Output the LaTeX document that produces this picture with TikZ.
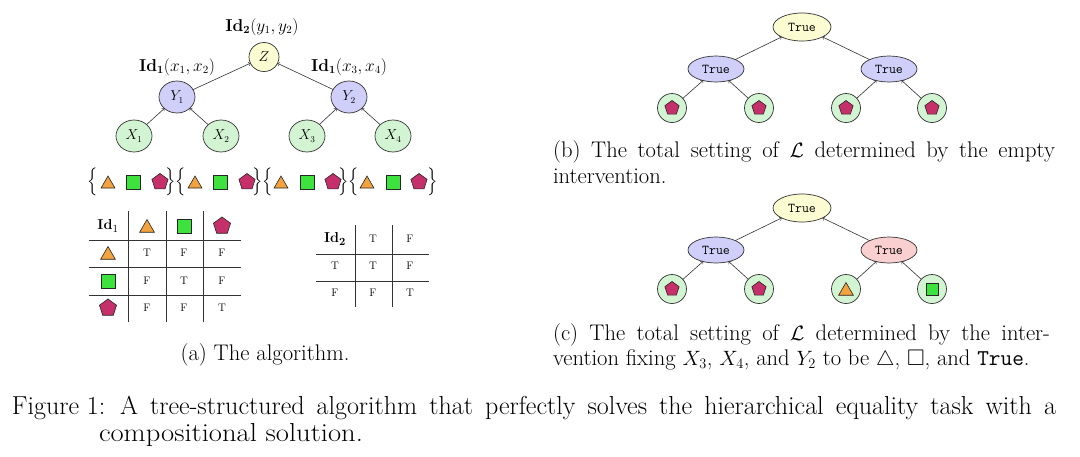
\documentclass[tikz,border=0pt]{standalone}
\usepackage{amsmath,amssymb,graphicx}
\usetikzlibrary{shapes.geometric}
\definecolor{trifill}{HTML}{F2A23E}
\definecolor{sqfill}{HTML}{3EE23E}
\definecolor{pentfill}{HTML}{C6306A}
\definecolor{xfill}{HTML}{D2F4D2}
\definecolor{yfill}{HTML}{CFCFFA}
\definecolor{zfill}{HTML}{FCFCD2}
\definecolor{rfill}{HTML}{F9CFCF}
\definecolor{linec}{HTML}{333333}
\begin{document}
\begin{tikzpicture}[x=1pt,y=-1pt,
 every node/.style={inner sep=0pt, outer sep=0pt},
 capfont/.style={font=\fontsize{22.6}{25.5}\selectfont},
 mainfont/.style={font=\fontsize{26}{24.5}\selectfont},
 var/.style={ellipse, draw=linec, line width=0.7pt, minimum width=36pt, minimum height=32pt, font=\fontsize{13.5}{15}\selectfont},
 xn/.style={var, fill=xfill},
 yn/.style={var, fill=yfill},
 zn/.style={var, fill=zfill, minimum width=30pt, minimum height=29pt},
 lab/.style={font=\fontsize{16}{18}\selectfont},
 edge/.style={->, draw=linec, line width=0.6pt},
 shp/.style={draw=black!85, line width=0.6pt},
 tri/.style={shp, regular polygon, regular polygon sides=3, fill=trifill, minimum size=17pt},
 sqr/.style={shp, rectangle, fill=sqfill, minimum size=14pt},
 pent/.style={shp, regular polygon, regular polygon sides=5, fill=pentfill, minimum size=18pt},
 brace/.style={font=\fontsize{15.5}{18}\selectfont},
 tf/.style={font=\fontsize{11}{13}\selectfont},
 idt/.style={font=\fontsize{15}{17}\selectfont},
 rule/.style={draw=linec, line width=0.6pt},
 bool/.style={ellipse, draw=linec, line width=0.7pt, font=\fontsize{13.5}{16}\selectfont\ttfamily},
 topb/.style={bool, fill=zfill, minimum width=58pt, minimum height=28pt},
 midb/.style={bool, fill=yfill, minimum width=56pt, minimum height=26pt},
 redb/.style={bool, fill=rfill, minimum width=56pt, minimum height=26pt},
 leaf/.style={circle, draw=linec, line width=0.7pt, fill=xfill, minimum size=29pt},
]
\fill[white] (0,0) rectangle (1080,456);
\useasboundingbox (0,0) rectangle (1080,456);

% ---------- (a) tree ----------
\node[zn] (Z) at (264,57) {$Z$};
\node[yn] (Y1) at (177,97) {$Y_1$};
\node[yn] (Y2) at (349,97) {$Y_2$};
\node[xn] (X1) at (134,136) {$X_1$};
\node[xn] (X2) at (221,136) {$X_2$};
\node[xn] (X3) at (307,136) {$X_3$};
\node[xn] (X4) at (393,136) {$X_4$};
\node[lab] (lZ) at (262,27) {$\mathbf{Id}_{\mathbf{2}}(y_1,y_2)$};
\node[lab] (lY1) at (177,67) {$\mathbf{Id}_{\mathbf{1}}(x_1,x_2)$};
\node[lab] (lY2) at (349,67) {$\mathbf{Id}_{\mathbf{1}}(x_3,x_4)$};
\draw[edge] (Y1) -- (Z);
\draw[edge] (Y2) -- (Z);
\draw[edge] (X1) -- (Y1);
\draw[edge] (X2) -- (Y1);
\draw[edge] (X3) -- (Y2);
\draw[edge] (X4) -- (Y2);

% ---------- set row ----------
\node[brace] (b0) at (93,182) {$\Big\{$};
\node[brace] (b1) at (176,182) {$\Big\}\Big\{$};
\node[brace] (b2) at (263,182) {$\Big\}\Big\{$};
\node[brace] (b3) at (349,182) {$\Big\}\Big\{$};
\node[brace] (b4) at (433,182) {$\Big\}$};
\foreach \g/\t/\s/\p in {1/108/133/160, 2/195/220/247, 3/281/307/333, 4/367/393/419} {
  \node[tri, minimum size=16pt] (st\g) at (\t,184) {};
  \node[sqr] (ss\g) at (\s,182) {};
  \node[pent, minimum size=17pt] (sp\g) at (\p,182) {};
}

% ---------- table Id1 ----------
\draw[rule] (89,240) -- (241,240);
\draw[rule] (89,267) -- (241,267);
\draw[rule] (89,295) -- (241,295);
\draw[rule] (128,211) -- (128,322);
\draw[rule] (166,211) -- (166,322);
\draw[rule] (203,211) -- (203,322);
\node[idt] (h1) at (108,226) {$\mathbf{Id}_1$};
\node[tri] (h1t) at (147,228) {};
\node[sqr] (h1s) at (184,226) {};
\node[pent] (h1p) at (222,226) {};
\node[tri] (r1t) at (108,255) {};
\node[sqr] (r1s) at (108,281) {};
\node[pent] (r1p) at (108,308) {};
\foreach \r/\y/\a/\b/\c in {1/253/T/F/F, 2/281/F/T/F, 3/308/F/F/T} {
  \node[tf] (ta\r) at (147,\y) {\a};
  \node[tf] (tb\r) at (184,\y) {\b};
  \node[tf] (tc\r) at (222,\y) {\c};
}

% ---------- table Id2 ----------
\draw[rule] (316,254) -- (429,254);
\draw[rule] (316,281) -- (429,281);
\draw[rule] (355,225) -- (355,307);
\draw[rule] (392,225) -- (392,307);
\node[idt] (h2) at (335,239) {$\mathbf{Id}_{\mathbf{2}}$};
\node[tf] (h2a) at (373,239) {T};
\node[tf] (h2b) at (410,239) {F};
\foreach \r/\y/\a/\b/\c in {1/266/T/T/F, 2/293/F/F/T} {
  \node[tf] (ua\r) at (335,\y) {\a};
  \node[tf] (ub\r) at (373,\y) {\b};
  \node[tf] (uc\r) at (410,\y) {\c};
}

\node[capfont, anchor=base] (capa) at (265,360) {(a) The algorithm.};

% ---------- (b) ----------
\node[topb] (bT) at (802,27) {True};
\node[midb] (bL) at (716,69) {True};
\node[midb] (bR) at (889,69) {True};
\foreach \i/\x in {1/672,2/759,3/846,4/932} {
  \node[leaf] (bl\i) at (\x,108) {};
  \node[pent, minimum size=15pt] (bp\i) at (\x,108) {};
}
\draw[edge] (bL) -- (bT);
\draw[edge] (bR) -- (bT);
\draw[edge] (bl1) -- (bL);
\draw[edge] (bl2) -- (bL);
\draw[edge] (bl3) -- (bR);
\draw[edge] (bl4) -- (bR);
\node[capfont, anchor=base west] (capb1) at (553,157.5)
 {\hbox to 502pt{(b) The total setting of $\mathcal{L}$ determined by the empty}};
\node[capfont, anchor=base west] (capb2) at (553,183) {intervention.};

% ---------- (c) ----------
\node[topb] (cT) at (802,208) {True};
\node[midb] (cL) at (716,250) {True};
\node[redb] (cR) at (889,250) {True};
\node[leaf] (cl1) at (672,289) {};
\node[leaf] (cl2) at (759,289) {};
\node[leaf] (cl3) at (846,289) {};
\node[leaf] (cl4) at (932,289) {};
\node[pent, minimum size=15pt] (cp1) at (672,289) {};
\node[pent, minimum size=15pt] (cp2) at (759,289) {};
\node[tri, minimum size=17pt] (cp3) at (846,291) {};
\node[sqr, minimum size=12pt] (cp4) at (932,289) {};
\draw[edge] (cL) -- (cT);
\draw[edge] (cR) -- (cT);
\draw[edge] (cl1) -- (cL);
\draw[edge] (cl2) -- (cL);
\draw[edge] (cl3) -- (cR);
\draw[edge] (cl4) -- (cR);
\node[capfont, anchor=base west] (capc1) at (553,340)
 {\hbox to 497pt{(c) The total setting of $\mathcal{L}$ determined by the inter-}};
\node[capfont, anchor=base west] (capc2) at (553,365)
 {vention fixing $X_3$, $X_4$, and $Y_2$ to be $\triangle$, $\square$, and \texttt{True}.};

% ---------- figure caption ----------
\node[mainfont, anchor=base west] (figl) at (12,414) {Figure 1:};
\node[mainfont, anchor=base west] (figt1) at (120,414)
 {\hbox to 936pt{A tree-structured algorithm that perfectly solves the hierarchical equality task with a}};
\node[mainfont, anchor=base west] (figt2) at (99,441)
 {\scalebox{1.1}[1]{compositional solution.}};
\end{tikzpicture}
\end{document}
